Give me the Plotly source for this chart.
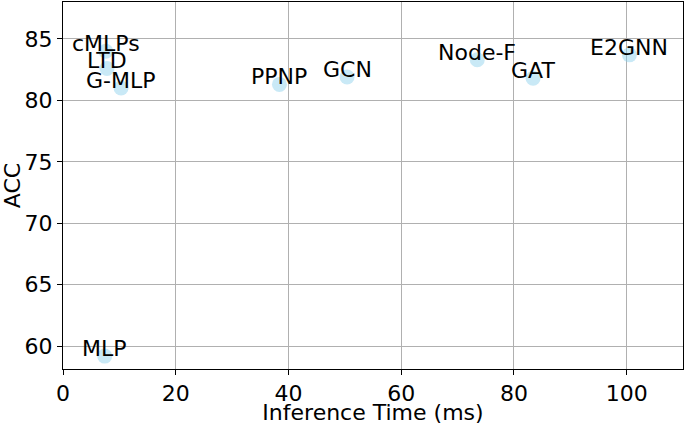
import plotly.graph_objects as go

models = ["cMLPs", "LTD", "G-MLP", "MLP", "PPNP", "GCN", "Node-F", "GAT", "E2GNN"]
inference_ms = [7.6, 7.8, 10.3, 7.4, 38.4, 50.4, 73.5, 83.4, 100.5]
acc = [84.0, 82.6, 81.0, 59.2, 81.3, 81.9, 83.3, 81.8, 83.7]

x_ticks = [0, 20, 40, 60, 80, 100]
y_ticks = [60, 65, 70, 75, 80, 85]

FONT = "DejaVu Sans"

fig = go.Figure()
fig.add_trace(go.Scatter(
    x=inference_ms, y=acc, mode="markers",
    marker=dict(size=15, color="rgba(135,206,235,0.45)", line=dict(width=0)),
    hoverinfo="skip", showlegend=False,
))

for name, xv, yv in zip(models, inference_ms, acc):
    fig.add_annotation(
        x=xv, y=yv, text=name, showarrow=False,
        xanchor="center", yanchor="bottom", yshift=-7,
        font=dict(family=FONT, size=22, color="black"),
    )

axis_common = dict(
    showline=True, linecolor="black", linewidth=1, mirror=True,
    ticks="outside", ticklen=5, tickcolor="black", tickwidth=1,
    showgrid=True, gridcolor="#b0b0b0", gridwidth=1, zeroline=False,
    tickfont=dict(family=FONT, size=22, color="black"),
)

fig.update_layout(
    width=685, height=425,
    margin=dict(l=63, r=2, t=1, b=54),
    paper_bgcolor="white", plot_bgcolor="white",
    xaxis=dict(range=[0, 110], tickvals=x_ticks,
               title=dict(text="Inference Time (ms)", font=dict(family=FONT, size=22, color="black"), standoff=2),
               **axis_common),
    yaxis=dict(range=[58.15, 88], tickvals=y_ticks,
               title=dict(text="ACC", font=dict(family=FONT, size=22, color="black"), standoff=4),
               **axis_common),
)

fig.write_html("out.html", config={"displayModeBar": False},
               post_script="document.body.style.margin='0';document.body.style.padding='0';")
